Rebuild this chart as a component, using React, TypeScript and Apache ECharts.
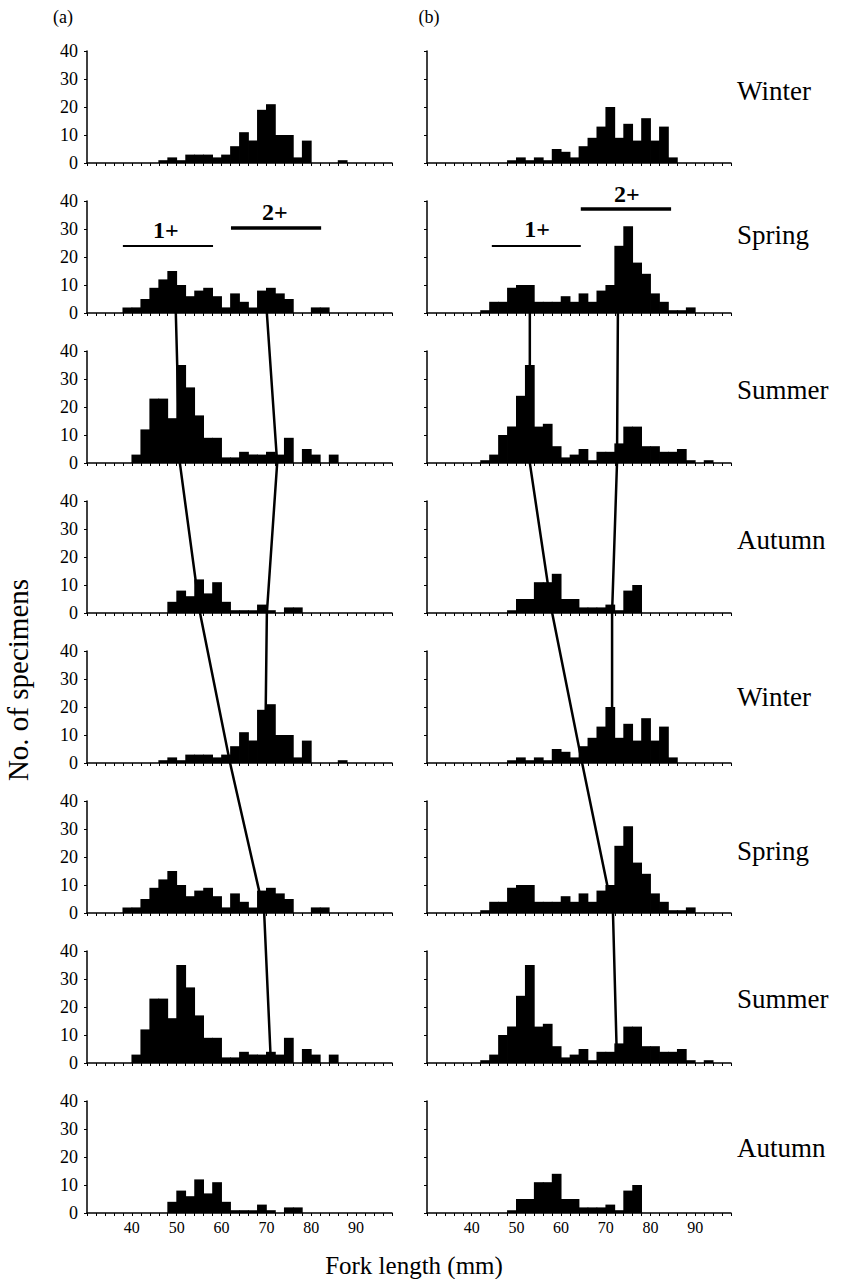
import React, { useEffect, useRef } from "react";
import * as echarts from "echarts";

const SERIF = "Liberation Serif";

// Bin starts (mm), 2 mm bins
const binStarts = [30, 32, 34, 36, 38, 40, 42, 44, 46, 48, 50, 52, 54, 56, 58, 60, 62, 64, 66, 68, 70, 72, 74, 76, 78, 80, 82, 84, 86, 88, 90, 92, 94, 96];
const xTickLabels = [40, 50, 60, 70, 80, 90];
const yTicks = [0, 10, 20, 30, 40];

// Column (a)
const winterA = [0, 0, 0, 0, 0, 0, 0, 0, 1, 2, 1, 3, 3, 3, 2, 3, 6, 11, 8, 19, 21, 10, 10, 2, 8, 0, 0, 0, 1, 0, 0, 0, 0, 0];
const springA = [0, 0, 0, 0, 2, 2, 5, 9, 12, 15, 10, 6, 8, 9, 6, 2, 7, 4, 2, 8, 9, 7, 5, 0, 0, 2, 2, 0, 0, 0, 0, 0, 0, 0];
const summerA = [0, 0, 0, 0, 0, 3, 12, 23, 23, 16, 35, 27, 17, 9, 9, 2, 2, 4, 3, 3, 4, 3, 9, 0, 5, 3, 0, 3, 0, 0, 0, 0, 0, 0];
const autumnA = [0, 0, 0, 0, 0, 0, 0, 0, 0, 4, 8, 6, 12, 7, 11, 4, 1, 1, 1, 3, 1, 0, 2, 2, 0, 0, 0, 0, 0, 0, 0, 0, 0, 0];
// Column (b)
const winterB = [0, 0, 0, 0, 0, 0, 0, 0, 0, 1, 2, 1, 2, 1, 5, 4, 2, 6, 9, 13, 20, 9, 14, 8, 16, 8, 13, 2, 0, 0, 0, 0, 0, 0];
const springB = [0, 0, 0, 0, 0, 0, 1, 4, 4, 9, 10, 10, 4, 4, 4, 6, 4, 7, 4, 8, 10, 24, 31, 18, 14, 7, 4, 1, 1, 2, 0, 0, 0, 0];
const summerB = [0, 0, 0, 0, 0, 0, 1, 3, 10, 13, 24, 35, 13, 14, 6, 2, 3, 5, 1, 4, 4, 7, 13, 13, 6, 6, 4, 4, 5, 1, 0, 1, 0, 0];
const autumnB = [0, 0, 0, 0, 0, 0, 0, 0, 0, 1, 5, 5, 11, 11, 14, 5, 5, 2, 2, 2, 3, 1, 8, 10, 0, 0, 0, 0, 0, 0, 0, 0, 0, 0];

const seasonNames = ["Winter", "Spring", "Summer", "Autumn", "Winter", "Spring", "Summer", "Autumn"];
const columnLabels = ["(a)", "(b)"];

// Cohort mode tracks (mm) at the x-axis of successive panels
const track1A = [49.8, 50.7, 55.2, 61.9, 69.5, 71.0]; // rows 2..7
const track2A = [70.1, 72.4, 70.1, 69.7]; // rows 2..5
const track1B = [53.0, 53.0, 58.0, 64.7, 71.6, 72.5];
const track2B = [72.7, 72.5, 71.4, 71.4];

// Cohort size ranges shown in Spring panel (mm): [from, to, level]
const cohort1A = [38.0, 58.1, 23.9];
const cohort2A = [62.1, 82.2, 30.4];
const cohort1B = [44.5, 64.4, 23.9];
const cohort2B = [64.4, 84.6, 37.1];
const cohortTextA = [[47.6, 29.6], [71.9, 36.1]];
const cohortTextB = [[54.6, 30.0], [74.7, 42.5]];

// Layout
const GRID_LEFT = [87, 427];
const GRID_WIDTH = [305, 304];
const ROW_TOP0 = 51;
const ROW_STEP = 150;
const ROW_H = 112;
const SEASON_Y = [91, 235, 390, 540, 697, 851, 999, 1148];

export default function App() {
  const ref = useRef<HTMLDivElement>(null);

  useEffect(() => {
    if (!ref.current) return;
    const chart = echarts.init(ref.current, null, { renderer: "svg" });
    const cols = [
      [winterA, springA, summerA, autumnA],
      [winterB, springB, summerB, autumnB],
    ];
    const grids: any[] = [];
    const xAxes: any[] = [];
    const yAxes: any[] = [];
    const series: any[] = [];
    for (let c = 0; c < 2; c++) {
      for (let r = 0; r < 8; r++) {
        const idx = c * 8 + r;
        grids.push({
          left: GRID_LEFT[c],
          width: GRID_WIDTH[c],
          top: ROW_TOP0 + ROW_STEP * r,
          height: ROW_H,
        });
        xAxes.push({
          gridIndex: idx,
          type: "value",
          min: 30,
          max: 98,
          interval: 2,
          axisLine: { show: true, onZero: false, lineStyle: { color: "#000", width: 1.5 } },
          axisTick: { show: true, length: 3, lineStyle: { color: "#000", width: 1 } },
          splitLine: { show: false },
          axisLabel: {
            show: r === 7,
            margin: 6,
            fontFamily: SERIF,
            fontSize: 16,
            color: "#000",
            formatter: (v: number) => (xTickLabels.includes(v) ? String(v) : ""),
          },
        });
        yAxes.push({
          gridIndex: idx,
          type: "value",
          min: 0,
          max: 40,
          interval: 10,
          axisLine: { show: true, lineStyle: { color: "#000", width: 1.5 } },
          axisTick: { show: true, length: 3, lineStyle: { color: "#000", width: 1 } },
          splitLine: { show: false },
          axisLabel: {
            show: c === 0,
            margin: 9,
            fontFamily: SERIF,
            fontSize: 18,
            color: "#000",
            formatter: (v: number) => (yTicks.includes(v) ? String(v) : ""),
          },
        });
        const arr = cols[c][r % 4];
        series.push({
          type: "custom",
          xAxisIndex: idx,
          yAxisIndex: idx,
          encode: { x: 0, y: 1 },
          data: binStarts.map((b, i) => [b, arr[i]]),
          renderItem: (params: any, api: any) => {
            const x0 = api.value(0);
            const v = api.value(1);
            if (!v) return null;
            const p0 = api.coord([x0, v]);
            const p1 = api.coord([x0 + 2, 0]);
            return {
              type: "rect",
              shape: { x: p0[0] - 0.4, y: p0[1], width: p1[0] - p0[0] + 0.8, height: p1[1] - p0[1] },
              style: { fill: "#000", stroke: null },
            };
          },
        });
      }
    }

    chart.setOption({
      animation: false,
      backgroundColor: "#fff",
      textStyle: { fontFamily: SERIF },
      grid: grids,
      xAxis: xAxes,
      yAxis: yAxes,
      series,
    });

    const px = (idx: number, mm: number, v: number) =>
      chart.convertToPixel({ gridIndex: idx } as any, [mm, v]) as number[];

    const txt = (x: number, y: number, text: string, size: number, extra: any = {}) => ({
      type: "text",
      x,
      y,
      z: 100,
      rotation: extra.rotation || 0,
      style: {
        text,
        fontFamily: SERIF,
        fontSize: size,
        fontWeight: extra.bold ? "bold" : "normal",
        fill: "#000",
        align: extra.align || "center",
        verticalAlign: "middle",
      },
    });

    const graphics: any[] = [];
    graphics.push(txt(63, 17, columnLabels[0], 18));
    graphics.push(txt(429, 17, columnLabels[1], 18));
    seasonNames.forEach((s, r) => {
      graphics.push(txt(737, SEASON_Y[r], s, 27, { align: "left" }));
    });
    graphics.push(txt(414, 1265, "Fork length (mm)", 25));
    graphics.push(txt(18, 680, "No. of specimens", 29, { rotation: Math.PI / 2 }));

    const track = (col: number, startRow: number, vals: number[]) => ({
      type: "polyline",
      z: 100,
      shape: { points: vals.map((mm, k) => px(col * 8 + startRow + k, mm, 0)) },
      style: { stroke: "#000", lineWidth: 2.5, fill: null },
    });
    graphics.push(track(0, 1, track1A));
    graphics.push(track(0, 1, track2A));
    graphics.push(track(1, 1, track1B));
    graphics.push(track(1, 1, track2B));

    const hline = (idx: number, d: number[], w: number) => {
      const a = px(idx, d[0], d[2]);
      const b = px(idx, d[1], d[2]);
      return { type: "line", z: 100, shape: { x1: a[0], y1: a[1], x2: b[0], y2: b[1] }, style: { stroke: "#000", lineWidth: w } };
    };
    graphics.push(hline(1, cohort1A, 2));
    graphics.push(hline(1, cohort2A, 3.5));
    graphics.push(hline(9, cohort1B, 2));
    graphics.push(hline(9, cohort2B, 3.5));
    const ctext = (idx: number, t: number[], s: string) => {
      const p = px(idx, t[0], t[1]);
      return txt(p[0], p[1], s, 24, { bold: true });
    };
    graphics.push(ctext(1, cohortTextA[0], "1+"));
    graphics.push(ctext(1, cohortTextA[1], "2+"));
    graphics.push(ctext(9, cohortTextB[0], "1+"));
    graphics.push(ctext(9, cohortTextB[1], "2+"));

    chart.setOption({ graphic: graphics });

    return () => chart.dispose();
  }, []);

  return (
    <div
      ref={ref}
      style={{ position: "absolute", left: 0, top: 0, width: 848, height: 1279, background: "#fff" }}
    />
  );
}
